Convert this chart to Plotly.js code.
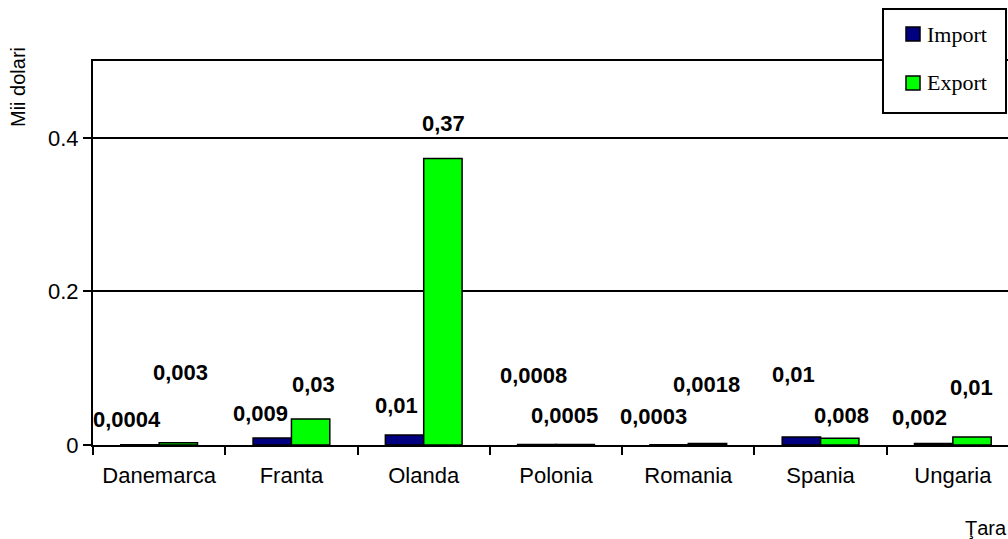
<!DOCTYPE html>
<html>
<head>
<meta charset="utf-8">
<script src="https://cdn.plot.ly/plotly-3.0.1.min.js"></script>
<style>
html, body { margin: 0; padding: 0; overflow: hidden; background: #fff; width: 1008px; height: 539px; }
#chart { width: 1030px; height: 539px; }
</style>
</head>
<body>
<div id="chart"></div>
<script>
// ---- data ----
const categories = ["Danemarca", "Franta", "Olanda", "Polonia", "Romania", "Spania", "Ungaria"];
const importValues = [0.0004, 0.009, 0.013, 0.0008, 0.0003, 0.0104, 0.002];
const exportValues = [0.003, 0.034, 0.373, 0.0005, 0.0018, 0.0087, 0.0104];
const importLabels = ["0,0004", "0,009", "0,01", "0,0008", "0,0003", "0,01", "0,002"];
const exportLabels = ["0,003", "0,03", "0,37", "0,0005", "0,0018", "0,008", "0,01"];
const seriesNames = ["Import", "Export"];
const yTitle = "Mii dolari";
const xTitle = "Ţara";

// ---- layout geometry (pixels) ----
const W = 1030, H = 539;
const M = { l: 93, r: 11, t: 61, b: 94 };
const PW = W - M.l - M.r, PH = H - M.t - M.b;
const px = x => (x - M.l) / PW;
const py = y => (H - M.b - y) / PH;

// label centre positions (pixels) as placed in the original chart
const importLabelPos = [[127, 419], [260, 413], [396, 405], [533, 375], [653, 416], [793, 374], [919, 417]];
const exportLabelPos = [[180, 372], [313, 384], [443, 123], [564, 415], [706, 384], [841, 415], [971, 387]];

const colors = ["#000080", "#00FF00"];

const traces = [
  { type: "bar", name: seriesNames[0], x: categories, y: importValues,
    marker: { color: colors[0], line: { color: "#000", width: 1.5 } }, hoverinfo: "x+y" },
  { type: "bar", name: seriesNames[1], x: categories, y: exportValues,
    marker: { color: colors[1], line: { color: "#000", width: 1.5 } }, hoverinfo: "x+y" }
];

const labelFont = { family: "Liberation Sans, Arial, sans-serif", size: 22, color: "#000" };
const annotations = [];
function addLabels(texts, pos) {
  texts.forEach((t, i) => {
    annotations.push({ text: "<b>" + t + "</b>", xref: "paper", yref: "paper",
      x: px(pos[i][0]), y: py(pos[i][1]), xanchor: "center", yanchor: "middle",
      showarrow: false, font: labelFont });
  });
}
addLabels(importLabels, importLabelPos);
addLabels(exportLabels, exportLabelPos);

annotations.push({ text: yTitle, xref: "paper", yref: "paper", x: px(18), y: py(87),
  xanchor: "center", yanchor: "middle", textangle: -90, showarrow: false,
  font: { family: "Liberation Sans, Arial, sans-serif", size: 20, color: "#000" } });
annotations.push({ text: xTitle, xref: "paper", yref: "paper", x: px(986), y: py(528),
  xanchor: "center", yanchor: "middle", showarrow: false,
  font: { family: "Liberation Sans, Arial, sans-serif", size: 20, color: "#000" } });

// legend (drawn manually)
const legendFont = { family: "Liberation Serif, Times New Roman, serif", size: 22, color: "#000" };
const legendRows = [34, 83];
seriesNames.forEach((n, i) => {
  annotations.push({ text: n, xref: "paper", yref: "paper", x: px(925), y: py(legendRows[i]),
    xanchor: "left", yanchor: "middle", showarrow: false, font: legendFont });
});
const shapes = [
  { type: "rect", xref: "paper", yref: "paper", x0: px(883), x1: px(1006), y0: py(9), y1: py(113),
    line: { color: "#000", width: 2 }, fillcolor: "#fff", layer: "above" }
];
legendRows.forEach((r, i) => {
  shapes.push({ type: "rect", xref: "paper", yref: "paper", x0: px(906), x1: px(920),
    y0: py(r - 7), y1: py(r + 7), line: { color: "#000", width: 1.5 }, fillcolor: colors[i], layer: "above" });
});

const axisFont = { family: "Liberation Sans, Arial, sans-serif", size: 22, color: "#000" };
const layout = {
  width: W, height: H, margin: M,
  paper_bgcolor: "#fff", plot_bgcolor: "#fff",
  barmode: "group", bargap: 0.42, bargroupgap: 0,
  showlegend: false,
  xaxis: { type: "category", showline: true, linecolor: "#000", linewidth: 2, mirror: true,
    ticks: "outside", ticklen: 8, tickwidth: 2, tickcolor: "#000", tickson: "boundaries",
    ticklabelstandoff: 10,
    showgrid: false, tickfont: axisFont, fixedrange: true },
  yaxis: { range: [0, 0.5], tick0: 0, dtick: 0.2, showline: true, linecolor: "#000", linewidth: 2,
    mirror: true, ticks: "outside", ticklen: 8, tickwidth: 2, tickcolor: "#000",
    showgrid: true, gridcolor: "#000", gridwidth: 2, zeroline: false, tickfont: axisFont, fixedrange: true },
  annotations: annotations,
  shapes: shapes
};

Plotly.newPlot("chart", traces, layout, { displayModeBar: false, staticPlot: true });
</script>
</body>
</html>
